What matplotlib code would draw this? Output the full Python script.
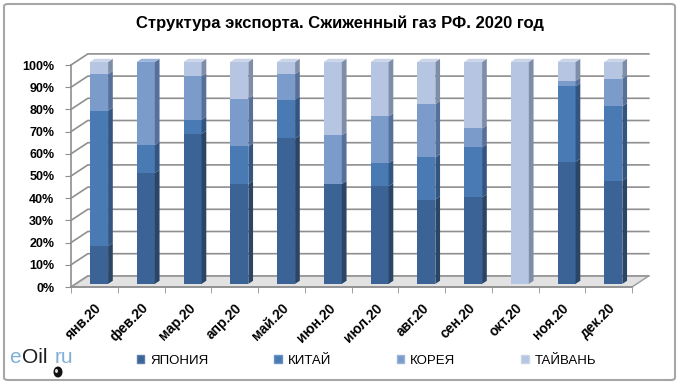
import matplotlib
matplotlib.use("Agg")
import matplotlib.pyplot as plt
from matplotlib.patches import Polygon, Patch, FancyBboxPatch, Ellipse
import numpy as np

months = ["янв.20", "фев.20", "мар.20", "апр.20", "май.20", "июн.20",
          "июл.20", "авг.20", "сен.20", "окт.20", "ноя.20", "дек.20"]
series = ["ЯПОНИЯ", "КИТАЙ", "КОРЕЯ", "ТАЙВАНЬ"]
japan = [17, 50, 67.5, 45, 65.5, 45, 44, 38, 39, 0, 55, 46.5]
china = [61, 12.5, 6.5, 17, 17.5, 0, 10.5, 19, 22.5, 0, 34, 33.5]
korea = [16.5, 37.5, 19.5, 21.5, 11.5, 22, 21, 24, 8.5, 0, 2.5, 12.5]
taiwan = [5.5, 0, 6.5, 16.5, 5.5, 33, 24.5, 19, 30, 100, 8.5, 7.5]
yticks = list(range(0, 101, 10))

front = ["#3b6396", "#4a7ab4", "#7b9bca", "#b6c5e1"]
side = ["#2a4566", "#335581", "#56709a", "#7f8ea8"]
top = ["#5a7fae", "#6a93c6", "#9ab3d9", "#cbd5e8"]

plt.rcParams['hatch.color'] = '#fbfbfb'
plt.rcParams['hatch.linewidth'] = 2.5

W, H = 680, 384
fig = plt.figure(figsize=(W / 100, H / 100), dpi=100)
fig.patches.append(FancyBboxPatch((4 / W, 4 / H), 671 / W, 376 / H, boxstyle="round,pad=0,rounding_size=0.006",
                                  transform=fig.transFigure, fc="none", ec="#a6a6a6", lw=1.5))

ax = fig.add_axes([71 / W, (H - 287) / H, 561 / W, 222 / H])
ax.set_xlim(-0.5, 11.5)
ax.set_ylim(0, 100)
ax.patch.set_alpha(0)

dx, dy = 0.36, 5.0     # depth of the 3D box in data units
t0, t1 = 0.28, 0.56    # front / back of bars within depth
bw = 0.385
n = len(months)
x = np.arange(n)

# floor
floor = [(-0.5, 0), (11.5, 0), (11.5 + dx, dy), (-0.5 + dx, dy)]
ax.add_patch(Polygon(floor, closed=True, fc="#e2e2e2", ec="none", hatch="//", clip_on=False, zorder=1))
ax.add_patch(Polygon(floor, closed=True, fc="none", ec="#9a9a9a", lw=1.0, clip_on=False, zorder=1.6))

# gridlines: back wall + left wall
for yv in yticks:
    ax.plot([-0.5, -0.5 + dx, 11.5 + dx], [yv, yv + dy, yv + dy], color="#8f8f8f", lw=1.2,
            clip_on=False, zorder=1.5)

# stacked 3D bars
stack = [japan, china, korea, taiwan]
bottom = np.zeros(n)
ddx, ddy = (t1 - t0) * dx, (t1 - t0) * dy
for k, vals in enumerate(stack):
    vals = np.array(vals, dtype=float)
    xs = x + t0 * dx
    ax.bar(xs, vals, width=bw, bottom=bottom + t0 * dy, color=front[k], lw=0, zorder=3, clip_on=False)
    for i in range(n):
        if vals[i] <= 0:
            continue
        xr = xs[i] + bw / 2
        y0 = bottom[i] + t0 * dy
        y1 = y0 + vals[i]
        ax.add_patch(Polygon([(xr, y0), (xr + ddx, y0 + ddy), (xr + ddx, y1 + ddy), (xr, y1)],
                             closed=True, fc=side[k], lw=0, zorder=3, clip_on=False))
    bottom = bottom + vals

for i in range(n):
    k = max(j for j in range(4) if stack[j][i] > 0)
    xl = x[i] + t0 * dx - bw / 2
    xr = xl + bw
    yt = bottom[i] + t0 * dy
    ax.add_patch(Polygon([(xl, yt), (xr, yt), (xr + ddx, yt + ddy), (xl + ddx, yt + ddy)],
                         closed=True, fc=top[k], lw=0, zorder=3, clip_on=False))

# axes
for s in ["top", "right"]:
    ax.spines[s].set_visible(False)
for s in ["left", "bottom"]:
    ax.spines[s].set_color("#8f8f8f")
    ax.spines[s].set_linewidth(1.2)
    ax.spines[s].set_zorder(1.7)
ax.set_yticks(yticks)
ax.set_yticklabels([f"{v}%" for v in yticks], fontsize=9, fontweight="bold", family="Liberation Sans")
ax.tick_params(axis="y", length=4, color="#8f8f8f", pad=8)
ax.set_xticks(np.arange(-0.5, 12, 1), minor=True)
ax.tick_params(axis="x", which="minor", length=4, color="#8f8f8f")
ax.set_xticks(x)
ax.set_xticklabels(months, rotation=45, ha="right", rotation_mode="anchor",
                   fontsize=10, fontweight="bold", family="Liberation Sans")
ax.tick_params(axis="x", which="major", length=0, pad=10)

fig.text(0.5, (H - 23) / H, "Структура экспорта. Сжиженный газ РФ. 2020 год", ha="center", va="center",
         fontsize=12, fontweight="bold", family="Liberation Sans")

handles = [Patch(fc=front[k], ec=top[k], lw=1) for k in range(4)]
fig.legend(handles, series, ncol=4, loc="center left", bbox_to_anchor=(125 / W, (H - 361) / H),
           frameon=False, handlelength=0.55, handleheight=0.55, handletextpad=0.45, columnspacing=5.0,
           prop={"family": "Liberation Sans", "size": 9.5})

# logo
ly = (H - 363) / H
fig.text(9 / W, ly, "e", color="#7fb0d8", fontsize=15, family="Liberation Sans", va="baseline")
fig.text(22 / W, ly, "Oil", color="#1e1e1e", fontsize=15, family="Liberation Sans", va="baseline")
fig.text(55 / W, ly, "ru", color="#7fb0d8", fontsize=15, family="Liberation Sans", va="baseline")
fig.patches.append(Ellipse((58 / W, (H - 372) / H), 9 / W, 11 / H, transform=fig.transFigure,
                           fc="#111111", ec="none"))
fig.patches.append(Ellipse((56.5 / W, (H - 371) / H), 3 / W, 4 / H, transform=fig.transFigure,
                           fc="#dddddd", ec="none"))

fig.savefig("out.png", dpi=100)
